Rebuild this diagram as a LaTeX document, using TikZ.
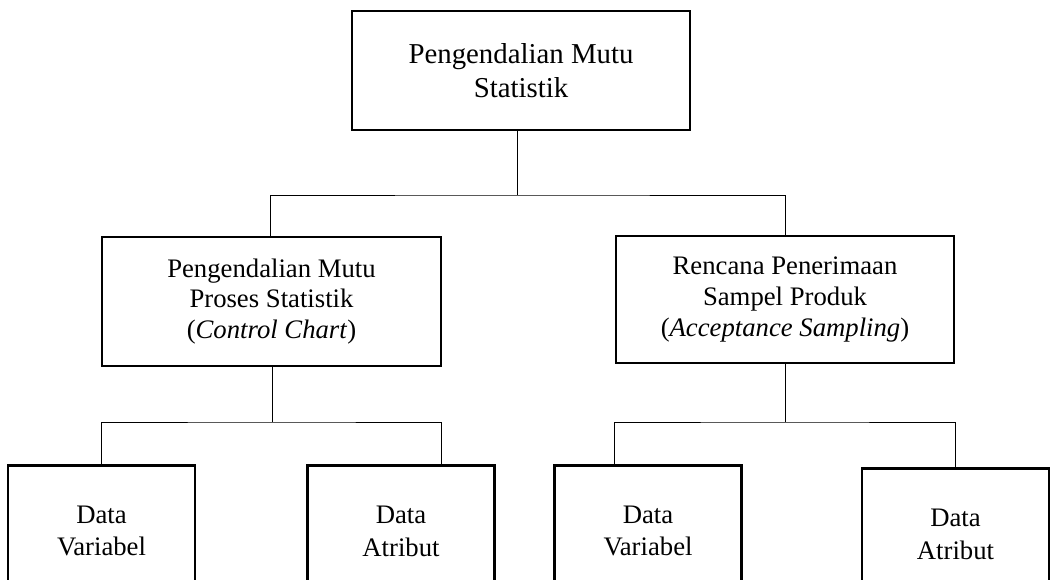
\documentclass[tikz,border=0pt]{standalone}
\usepackage{fontspec}
\setmainfont{Liberation Serif}
\begin{document}
\begin{tikzpicture}[
    box/.style={draw, line width=2pt, align=center, inner sep=0pt,
      font=\fontsize{19}{21.7}\selectfont},
    leaf/.style={box, anchor=north, minimum width=4.675cm, minimum height=3.3cm,
      font=\fontsize{19}{22.8}\selectfont},
    link/.style={line width=0.7pt}]
    \def\ytop{-11.6}

    \useasboundingbox (0,0) rectangle (26.25,-14.5);
    \clip (0,0) rectangle (26.25,-14.5);

    % atas
    \node[box, minimum width=8.45cm, minimum height=2.975cm,
      font=\fontsize{20.5}{24}\selectfont] (pms) at (13.025,-1.7625)
      {Pengendalian Mutu\\Statistik};

    % tengah
    \node[box, minimum width=8.475cm, minimum height=3.225cm] (ppc) at (6.7875,-7.5375)
      {Pengendalian Mutu\\Proses Statistik\\(\textit{Control Chart})};
    \node[box, minimum width=8.45cm, minimum height=3.175cm] (rps) at (19.625,-7.4875)
      {Rencana Penerimaan\\Sampel Produk\\(\textit{Acceptance Sampling})};

    % bawah
    \node[leaf] (dvc) at (2.5375,\ytop) {Data\\Variabel};
    \node[leaf] (dac) at (10.025,\ytop) {Data\\Atribut};
    \node[leaf] (dvs) at (16.2,\ytop) {Data\\Variabel};
    \node[leaf] (das) at (23.8875,\ytop-0.075) {Data\\Atribut};

    % garis
    \coordinate (j0) at (12.925,-4.875);
    \coordinate (j1) at (6.8,-10.55);
    \coordinate (j2) at (19.625,-10.55);
    \draw[link] (pms.south -| j0) -- (j0);
    \draw[link] ([xshift=-0.0375cm]ppc.north) |- (j0) -| (rps.north);
    \draw[link] (ppc.south -| j1) -- (j1);
    \draw[link] (dvc.north) |- (j1) -| ([xshift=1cm]dac.north);
    \draw[link] (rps.south -| j2) -- (j2);
    \draw[link] ([xshift=-0.85cm]dvs.north) |- (j2) -| (das.north);
\end{tikzpicture}
\end{document}
